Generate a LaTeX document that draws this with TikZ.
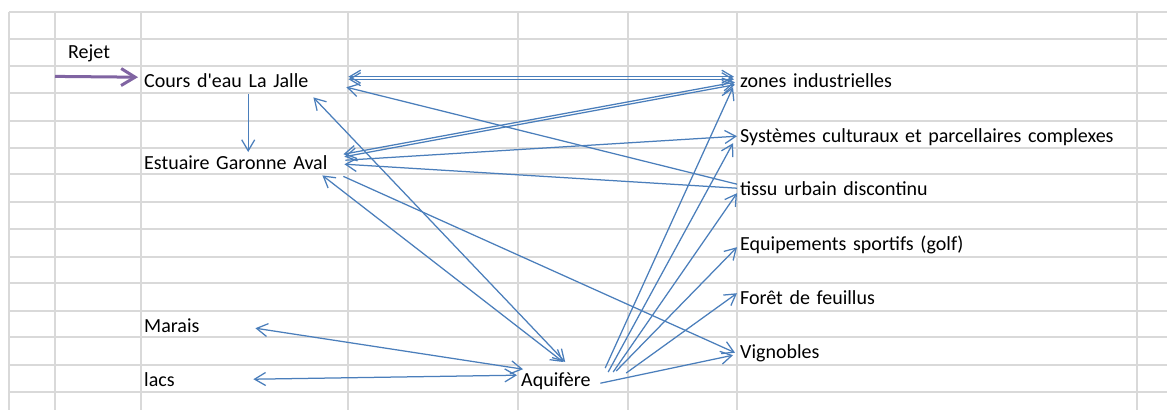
\documentclass[tikz,border=0pt]{standalone}
\usepackage{fontspec}
\newfontfamily\cellfont[Ligatures=TeXOff]{Carlito}
\usetikzlibrary{arrows.meta}
\definecolor{linkblue}{HTML}{4A7EBB}
\definecolor{rejetpurple}{HTML}{8064A2}
\definecolor{gridgray}{HTML}{D9D9D9}
\begin{document}
\begin{tikzpicture}[x=1pt, y=-1pt,
  >={Straight Barb[length=11pt,width=13pt]},
  grid/.style={gridgray, line width=1.3pt},
  cell/.style={anchor=north west, inner xsep=3pt, inner ysep=0pt, text width=#1,
    text height=21pt, text depth=6pt, align=left,
    font=\cellfont\fontsize{20}{24}\selectfont},
  link/.style={linkblue, line width=1.25pt, ->},
  both/.style={linkblue, line width=1.25pt, <->}]
\useasboundingbox[fill=white] (0,0) rectangle (1167,410);
\foreach \y in {12,39,66,93,121,148,174,202,229,257,283,311,337,365,392}
  \draw[grid] (9,\y) -- (1167,\y);
\foreach \x in {9,55,141,348,518,628,737,1137}
  \draw[grid] (\x,12) -- (\x,410);

\node[cell=60pt, inner xsep=13pt] (rejet) at (55,37) {Rejet};
\node[cell=201pt] (cours) at (141,66) {Cours d'eau La Jalle};
\node[cell=201pt] (estuaire) at (141,148) {Estuaire Garonne Aval};
\node[cell=201pt] (marais) at (141,311) {Marais};
\node[cell=201pt] (lacs) at (141,365) {lacs};
\node[cell=104pt] (aquifere) at (518,365) {Aquifère};
\node[cell=394pt] (zones) at (737,66) {zones industrielles};
\node[cell=394pt] (systemes) at (737,121) {Systèmes culturaux et parcellaires complexes};
\node[cell=394pt] (tissu) at (737,174) {tissu urbain discontinu};
\node[cell=394pt] (equip) at (737,229) {Equipements sportifs (golf)};
\node[cell=394pt] (foret) at (737,283) {Forêt de feuillus};
\node[cell=394pt] (vignobles) at (737,337) {Vignobles};

\draw[rejetpurple, line width=3pt, -{Straight Barb[length=14pt,width=17pt]}]
  ([shift={(0,12)}]rejet.south west) -- ([shift={(-3,-2.5)}]cours.west);
\draw[link] ([shift={(3.5,1)}]cours.south) -- ([shift={(3.5,4)}]estuaire.north);
\draw[both] ([shift={(0,-3)}]cours.east) -- ([shift={(-3,-3)}]zones.west);
\draw[both] ([shift={(0,-0.5)}]cours.east) -- ([shift={(-3,-0.5)}]zones.west);
\draw[both] ([shift={(-5,-7.5)}]estuaire.east) -- ([shift={(-2,2.5)}]zones.west);
\draw[both] ([shift={(-4,-5)}]estuaire.east) -- ([shift={(-2,5)}]zones.west);
\draw[link] ([shift={(0,-3.5)}]tissu.west) -- ([shift={(-2,7.5)}]cours.east);
\draw[link] ([shift={(-3,-1.5)}]estuaire.east) -- ([shift={(0,1.5)}]systemes.west);
\draw[link] ([shift={(0,0.5)}]tissu.west) -- ([shift={(-4,2.5)}]estuaire.east);
\draw[link] ([shift={(-5,1)}]estuaire.south east) -- ([shift={(-2,2)}]vignobles.west);
\draw[both] ([shift={(-35,4)}]cours.south east) -- ([shift={(-8,-3)}]aquifere.north);
\draw[both] ([shift={(-26,0)}]estuaire.south east) -- ([shift={(-10,-3)}]aquifere.north);
\draw[link] ([shift={(32,3)}]aquifere.north) -- ([shift={(-4,7.5)}]zones.west);
\draw[link] ([shift={(35,7)}]aquifere.north) -- ([shift={(-4,8.5)}]systemes.west);
\draw[link] ([shift={(40,7)}]aquifere.north) -- ([shift={(0,5.5)}]tissu.west);
\draw[link] ([shift={(43,6)}]aquifere.north) -- ([shift={(0,4.5)}]equip.west);
\draw[link] ([shift={(53,8)}]aquifere.north) -- ([shift={(0,-3.5)}]foret.west);
\draw[link] ([shift={(-28,4.5)}]aquifere.east) -- ([shift={(-4,4.5)}]vignobles.west);
\draw[both] ([shift={(-93,3.5)}]marais.east) -- ([shift={(5,-9.5)}]aquifere.west);
\draw[both] ([shift={(-95,0.5)}]lacs.east) -- ([shift={(-1,-3.5)}]aquifere.west);
\end{tikzpicture}
\end{document}
